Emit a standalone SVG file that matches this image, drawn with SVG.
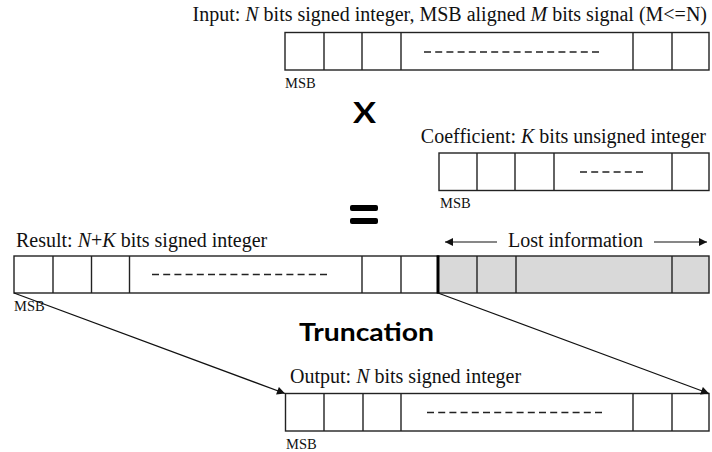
<svg xmlns="http://www.w3.org/2000/svg" width="712" height="452" viewBox="0 0 712 452">
  <defs>
    <marker id="arr" viewBox="0 0 10 10" refX="10" refY="5" markerWidth="10" markerHeight="8" markerUnits="userSpaceOnUse" orient="auto">
      <path d="M0,0 L10,5 L0,10 Z" fill="#111"/>
    </marker>
  </defs>
  <style>
    .cell { fill: #fff; stroke: #222; stroke-width: 1.4; }
    .lost { fill: #d9d9d9; stroke: #222; stroke-width: 1.4; }
    .div { stroke: #222; stroke-width: 1.4; }
    .dash { stroke: #222; stroke-width: 1.6; stroke-dasharray: 7 4.2; }
    .lbl { font-family: "Liberation Serif", "Times New Roman", serif; font-size: 20px; fill: #111; }
    .msb { font-family: "Liberation Serif", "Times New Roman", serif; font-size: 14.5px; fill: #111; }
    .op { font-family: "Lato", "Liberation Sans", sans-serif; font-weight: bold; fill: #000; }
    .conn { stroke: #111; stroke-width: 1.2; fill: none; }
  </style>
  <rect width="712" height="452" fill="#fff"/>

  <!-- input word -->
  <g id="input">
    <text class="lbl" x="707" y="21" text-anchor="end">Input: <tspan font-style="italic">N</tspan> bits signed integer, MSB aligned <tspan font-style="italic">M</tspan> bits signal (M&lt;=N)</text>
    <rect class="cell" x="285" y="32.5" width="424" height="37.5"/>
    <line class="div" x1="324" y1="32.5" x2="324" y2="70"/>
    <line class="div" x1="362" y1="32.5" x2="362" y2="70"/>
    <line class="div" x1="401" y1="32.5" x2="401" y2="70"/>
    <line class="div" x1="633" y1="32.5" x2="633" y2="70"/>
    <line class="div" x1="672" y1="32.5" x2="672" y2="70"/>
    <line class="dash" x1="424" y1="52" x2="603" y2="52"/>
    <text class="msb" x="285" y="88">MSB</text>
  </g>

  <!-- multiply sign -->
  <g id="times">
    <text class="op" x="353" y="123" font-size="28" textLength="23" lengthAdjust="spacingAndGlyphs">X</text>
  </g>

  <!-- coefficient word -->
  <g id="coefficient">
    <text class="lbl" x="706" y="143" text-anchor="end">Coefficient: <tspan font-style="italic">K</tspan> bits unsigned integer</text>
    <rect class="cell" x="439" y="153" width="270" height="37.5"/>
    <line class="div" x1="477" y1="153" x2="477" y2="190.5"/>
    <line class="div" x1="515" y1="153" x2="515" y2="190.5"/>
    <line class="div" x1="554" y1="153" x2="554" y2="190.5"/>
    <line class="div" x1="672" y1="153" x2="672" y2="190.5"/>
    <line class="dash" x1="580" y1="172" x2="643" y2="172"/>
    <text class="msb" x="440" y="208">MSB</text>
  </g>

  <!-- equals sign -->
  <g id="equals">
    <rect x="350" y="205" width="28" height="6" rx="2" fill="#000"/>
    <rect x="350" y="218" width="28" height="6" rx="2" fill="#000"/>
  </g>

  <!-- full-width product -->
  <g id="result">
    <text class="lbl" x="16" y="247">Result: <tspan font-style="italic">N</tspan>+<tspan font-style="italic">K</tspan> bits signed integer</text>
    <rect class="cell" x="14" y="256" width="424" height="37"/>
    <line class="div" x1="53" y1="256" x2="53" y2="293"/>
    <line class="div" x1="91.5" y1="256" x2="91.5" y2="293"/>
    <line class="div" x1="129.5" y1="256" x2="129.5" y2="293"/>
    <line class="div" x1="362" y1="256" x2="362" y2="293"/>
    <line class="div" x1="401" y1="256" x2="401" y2="293"/>
    <line class="dash" x1="152" y1="274.5" x2="331" y2="274.5"/>
    <text class="msb" x="14" y="311">MSB</text>
  </g>

  <!-- discarded low bits -->
  <g id="lost">
    <rect class="lost" x="438" y="256" width="271" height="37"/>
    <line class="div" x1="477" y1="256" x2="477" y2="293"/>
    <line class="div" x1="516" y1="256" x2="516" y2="293"/>
    <line class="div" x1="672" y1="256" x2="672" y2="293"/>
    <line x1="438" y1="255.5" x2="438" y2="293.5" stroke="#000" stroke-width="3"/>
    <text class="lbl" x="575.5" y="247" text-anchor="middle">Lost information</text>
  </g>

  <!-- truncation caption -->
  <g id="truncation">
    <text class="op" x="299" y="341" font-size="25" textLength="135" lengthAdjust="spacingAndGlyphs">Truncation</text>
  </g>

  <!-- truncated output word -->
  <g id="output">
    <text class="lbl" x="290" y="383">Output: <tspan font-style="italic">N</tspan> bits signed integer</text>
    <rect class="cell" x="285.5" y="393.5" width="423.5" height="37.5"/>
    <line class="div" x1="324" y1="393.5" x2="324" y2="431"/>
    <line class="div" x1="363" y1="393.5" x2="363" y2="431"/>
    <line class="div" x1="401" y1="393.5" x2="401" y2="431"/>
    <line class="div" x1="633" y1="393.5" x2="633" y2="431"/>
    <line class="div" x1="672" y1="393.5" x2="672" y2="431"/>
    <line class="dash" x1="427" y1="412.5" x2="606" y2="412.5"/>
    <text class="msb" x="286" y="449">MSB</text>
  </g>

  <!-- connectors -->
  <g id="connectors">
    <line class="conn" x1="14" y1="293" x2="285" y2="393.5" marker-end="url(#arr)"/>
    <line class="conn" x1="438" y1="293" x2="709" y2="393.5" marker-end="url(#arr)"/>
    <line class="conn" x1="497" y1="242" x2="445" y2="242" marker-end="url(#arr)"/>
    <line class="conn" x1="654" y1="242" x2="707" y2="242" marker-end="url(#arr)"/>
  </g>
</svg>
